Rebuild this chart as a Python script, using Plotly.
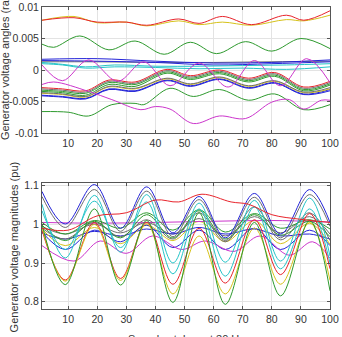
import plotly.graph_objects as go

# ---------------- data: top panel (voltage angles, rad) ----------------
X_TOP = [1, 12, 20, 30, 37, 48, 55, 63, 73, 85, 91, 100]
ang_red_top = [0.0079, 0.0083, 0.0076, 0.0076, 0.0071, 0.0081, 0.0074, 0.0085, 0.0072, 0.0087, 0.0079, 0.0094]
ang_yellow_top = [0.0079, 0.0085, 0.0075, 0.0076, 0.0070, 0.0078, 0.0072, 0.0076, 0.0071, 0.0080, 0.0078, 0.0087]

X_GM = [1, 5, 14, 24, 33, 43, 52, 61, 71, 80, 90, 100]
ang_green_mid = [0.0041, 0.0036, 0.0054, 0.0032, 0.0046, 0.0025, 0.0044, 0.0026, 0.0045, 0.0030, 0.0050, 0.0034]

X_FLAT = [1, 20, 40, 60, 80, 100]
ang_blue_flat = [0.0017, 0.0018, 0.0014, 0.0011, 0.0012, 0.0016]
ang_blue_flat2 = [0.0015, 0.0014, 0.0012, 0.0008, 0.0010, 0.0013]
ang_gray_flat = [0.0013, 0.0013, 0.0012, 0.0012, 0.0013, 0.0014]

X_CY = [1, 8, 16, 26, 40, 55, 70, 85, 100]
ang_cyan1 = [0.0012, 0.0009, 0.0005, 0.0008, 0.0006, 0.0006, 0.0007, 0.0008, 0.0010]
ang_cyan2 = [0.0010, 0.0008, 0.0003, 0.0005, 0.0004, 0.0002, 0.0003, 0.0001, 0.0005]

X_MO = [1, 8, 17, 27, 36, 45, 55, 65, 74, 83, 92, 100]
ang_magenta_osc = [0.0008, -0.0017, 0.0016, -0.0018, 0.0013, -0.0025, 0.0011, -0.0027, 0.0015, -0.0025, 0.0018, -0.0020]

X_ML = [1, 5, 17, 25, 35, 40, 45, 53, 62, 71, 80, 86, 91, 97, 100]
ang_magenta_low = [-0.0023, -0.0019, -0.0034, -0.0047, -0.0063, -0.0058, -0.0062, -0.0085, -0.0073, -0.0077, -0.0051, -0.0047, -0.0062, -0.0048, -0.0048]

X_GL = [1, 10, 17, 25, 33, 36, 45, 53, 62, 72, 81, 91, 100]
ang_green_low = [-0.0066, -0.0067, -0.0073, -0.0055, -0.0053, -0.0055, -0.0029, -0.0042, -0.0031, -0.0048, -0.0038, -0.0063, -0.0055]

X_CL = [1, 8, 16, 24, 33, 44, 52, 62, 72, 81, 91, 100]
ang_red_c = [-0.0028, -0.0030, -0.0033, -0.0016, -0.0019, 0.0001, -0.0009, 0.0000, -0.0013, -0.0004, -0.0027, -0.0018]
ang_gray_c1 = [-0.0030, -0.0032, -0.0035, -0.0018, -0.0021, -0.0001, -0.0011, -0.0002, -0.0015, -0.0006, -0.0029, -0.0020]
ang_green_c1 = [-0.0032, -0.0034, -0.0037, -0.0020, -0.0023, -0.0003, -0.0013, -0.0004, -0.0017, -0.0008, -0.0031, -0.0022]
ang_green_c2 = [-0.0034, -0.0036, -0.0040, -0.0023, -0.0026, -0.0005, -0.0015, -0.0006, -0.0019, -0.0010, -0.0033, -0.0024]
ang_gray_c2 = [-0.0036, -0.0038, -0.0042, -0.0026, -0.0029, -0.0013, -0.0022, -0.0011, -0.0025, -0.0017, -0.0035, -0.0028]
ang_yellow_c = [-0.0037, -0.0039, -0.0043, -0.0027, -0.0030, -0.0014, -0.0023, -0.0012, -0.0026, -0.0018, -0.0036, -0.0030]
ang_blue_c1 = [-0.0040, -0.0042, -0.0045, -0.0030, -0.0033, -0.0016, -0.0025, -0.0014, -0.0028, -0.0020, -0.0038, -0.0031]
ang_blue_c2 = [-0.0041, -0.0043, -0.0046, -0.0031, -0.0034, -0.0017, -0.0026, -0.0015, -0.0029, -0.0021, -0.0039, -0.0033]

# ---------------- data: bottom panel (voltage magnitudes, pu) ----------------
XB = [1, 9, 19, 28, 37, 46, 55, 64, 74, 83, 93, 100]
mag_blue_top = [1.085, 1.001, 1.103, 0.990, 1.097, 0.978, 1.072, 0.965, 1.080, 0.975, 1.090, 1.005]
mag_gray_top = [1.072, 0.992, 1.090, 0.982, 1.086, 0.968, 1.064, 0.958, 1.070, 0.965, 1.077, 0.995]
mag_cyan_a = [1.052, 0.913, 1.075, 0.928, 1.077, 0.900, 1.055, 0.902, 1.062, 0.905, 1.068, 0.918]
mag_cyan_b = [1.035, 0.935, 1.060, 0.940, 1.058, 0.872, 1.040, 0.866, 1.045, 0.885, 1.040, 0.900]
mag_green_deep = [1.000, 0.844, 1.040, 0.843, 1.010, 0.798, 1.030, 0.793, 1.005, 0.815, 1.010, 0.828]
mag_yellow_deep = [0.992, 0.853, 1.000, 0.855, 1.002, 0.820, 0.970, 0.820, 0.990, 0.845, 1.005, 0.855]
mag_red_deep = [0.985, 0.856, 1.005, 0.860, 1.005, 0.845, 0.990, 0.848, 1.012, 0.870, 1.028, 0.885]
mag_blue_mid = [0.980, 0.935, 0.985, 0.955, 0.998, 0.940, 0.985, 0.935, 0.990, 0.935, 0.985, 0.945]
mag_green_mid1 = [1.005, 0.975, 1.010, 0.990, 1.030, 0.985, 1.038, 0.980, 1.028, 0.990, 1.012, 0.988]
mag_green_mid2 = [0.998, 0.958, 1.008, 0.965, 1.025, 0.965, 1.035, 0.962, 1.025, 0.972, 1.008, 0.968]
mag_gray_mid = [0.990, 0.962, 1.005, 0.968, 1.012, 0.962, 1.030, 0.955, 1.045, 0.960, 1.030, 0.958]
mag_blue_flat = [0.978, 0.962, 0.982, 0.970, 0.988, 0.975, 0.992, 0.975, 0.988, 0.970, 0.975, 0.962]
mag_yellow_mid = [0.988, 0.945, 0.992, 0.950, 0.998, 0.958, 1.008, 0.955, 1.010, 0.950, 1.003, 0.948]
mag_gray2 = [0.995, 0.975, 1.000, 0.978, 1.005, 0.975, 1.015, 0.970, 1.020, 0.978, 1.020, 0.975]

X_MGL = [1, 12, 21, 30, 39, 49, 57, 67, 76, 86, 94, 100]
mag_magenta_low = [0.945, 0.905, 0.957, 0.925, 0.970, 0.935, 0.957, 0.930, 0.970, 0.920, 0.955, 0.912]

X_MGF = [1, 20, 40, 60, 80, 100]
mag_magenta_flat = [1.005, 1.003, 1.005, 1.008, 1.010, 1.006]

X_RS = [1, 10, 20, 30, 40, 48, 56, 66, 72, 80, 90, 100]
mag_red_slow = [0.990, 0.985, 1.022, 1.030, 1.063, 1.058, 1.078, 1.058, 1.052, 1.025, 1.013, 1.005]

X_TICKS = [10, 20, 30, 40, 50, 60, 70, 80, 90, 100]
ANG_TICKS = [-0.01, -0.005, 0, 0.005, 0.01]
ANG_LABELS = ["-0.01", "-0.005", "0", "0.005", "0.01"]
MAG_TICKS = [0.8, 0.9, 1.0, 1.1]
MAG_LABELS = ["0.8", "0.9", "1", "1.1"]

TITLE_TOP_Y = "Generator voltage angles (rad)"
TITLE_BOT_Y = "Generator voltage magnitudes (pu)"
TITLE_BOT_X = "Samples taken at 30 Hz"

# ---------------- colours ----------------
RED = "#e8242c"
GREEN = "#2e9a2e"
BLUE = "#2323d8"
CYAN = "#25c4c8"
MAGENTA = "#cc35cc"
YELLOW = "#d6c21a"
GRAY = "#6e6e6e"

top_series = [
    (X_FLAT, ang_gray_flat, GRAY), (X_FLAT, ang_blue_flat2, BLUE), (X_FLAT, ang_blue_flat, BLUE),
    (X_CY, ang_cyan1, CYAN), (X_CY, ang_cyan2, CYAN),
    (X_CL, ang_blue_c2, BLUE), (X_CL, ang_blue_c1, BLUE), (X_CL, ang_yellow_c, YELLOW),
    (X_CL, ang_gray_c2, GRAY), (X_CL, ang_green_c2, GREEN), (X_CL, ang_green_c1, GREEN),
    (X_CL, ang_gray_c1, GRAY), (X_CL, ang_red_c, RED),
    (X_GL, ang_green_low, GREEN), (X_ML, ang_magenta_low, MAGENTA), (X_MO, ang_magenta_osc, MAGENTA),
    (X_GM, ang_green_mid, GREEN), (X_TOP, ang_yellow_top, YELLOW), (X_TOP, ang_red_top, RED),
]

bottom_series = [
    (XB, mag_gray2, GRAY), (XB, mag_blue_flat, BLUE), (XB, mag_yellow_mid, YELLOW),
    (XB, mag_blue_mid, BLUE), (X_MGL, mag_magenta_low, MAGENTA), (X_MGF, mag_magenta_flat, MAGENTA),
    (XB, mag_gray_mid, GRAY), (XB, mag_green_mid2, GREEN), (XB, mag_green_mid1, GREEN),
    (XB, mag_cyan_b, CYAN), (XB, mag_cyan_a, CYAN), (XB, mag_gray_top, GRAY), (XB, mag_blue_top, BLUE),
    (XB, mag_red_deep, RED), (XB, mag_yellow_deep, YELLOW), (XB, mag_green_deep, GREEN),
    (X_RS, mag_red_slow, RED),
]

fig = go.Figure()
for xs, ys, col in top_series:
    fig.add_trace(go.Scatter(x=xs, y=ys, mode="lines", xaxis="x", yaxis="y",
                             line=dict(color=col, width=1.0, shape="spline", smoothing=1.0),
                             showlegend=False, hoverinfo="skip"))
for xs, ys, col in bottom_series:
    fig.add_trace(go.Scatter(x=xs, y=ys, mode="lines", xaxis="x2", yaxis="y2",
                             line=dict(color=col, width=1.0, shape="spline", smoothing=1.0),
                             showlegend=False, hoverinfo="skip"))

FONT = "Liberation Sans, Arial, Helvetica, sans-serif"
TXT = "#333333"
axis_common = dict(showline=True, linecolor="#555555", linewidth=1, mirror="ticks",
                   ticks="inside", ticklen=3, tickcolor="#555555", automargin=False,
                   showgrid=True, gridcolor="#e3e3e3", gridwidth=1, zeroline=False,
                   tickfont=dict(family=FONT, size=10.5, color=TXT))

title_font = dict(family=FONT, size=11, color=TXT)

fig.update_layout(
    width=342, height=337,
    margin=dict(l=42, r=12, t=7, b=28, autoexpand=False),
    paper_bgcolor="white", plot_bgcolor="white",
    showlegend=False,
    xaxis=dict(domain=[0, 1], anchor="y", range=[1, 100], tickvals=X_TICKS, **axis_common),
    yaxis=dict(domain=[0.5828, 1], anchor="x", range=[-0.01, 0.01], tickvals=ANG_TICKS,
               ticktext=ANG_LABELS, **axis_common),
    xaxis2=dict(domain=[0, 1], anchor="y2", range=[1, 100], tickvals=X_TICKS, **axis_common),
    yaxis2=dict(domain=[0, 0.4172], anchor="x2", range=[0.781, 1.107], tickvals=MAG_TICKS,
                ticktext=MAG_LABELS, **axis_common),
    annotations=[
        dict(text=TITLE_TOP_Y, xref="paper", yref="paper", x=-0.128, y=0.808,
             xanchor="center", yanchor="middle", textangle=-90, showarrow=False, font=title_font),
        dict(text=TITLE_BOT_Y, xref="paper", yref="paper", x=-0.094, y=0.207,
             xanchor="center", yanchor="middle", textangle=-90, showarrow=False, font=title_font),
        dict(text=TITLE_BOT_X, xref="paper", yref="paper", x=0.5, y=-0.098,
             xanchor="center", yanchor="middle", showarrow=False, font=title_font),
    ],
)

fig.write_html("out.html")
